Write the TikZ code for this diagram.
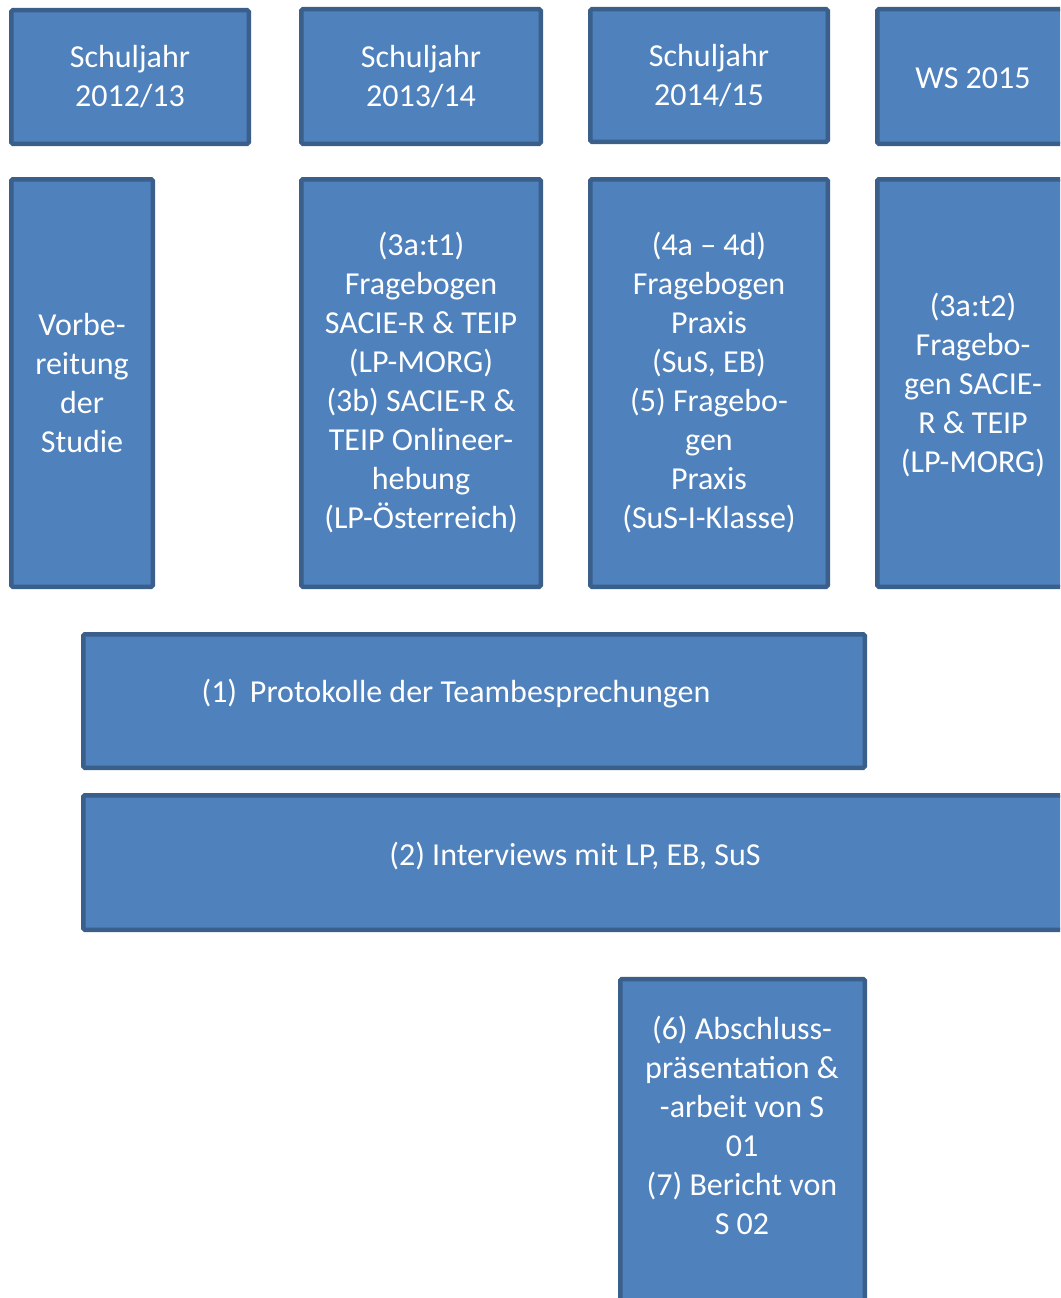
\documentclass[tikz,border=0pt]{standalone}
\usepackage{fontspec}
\setmainfont{Carlito}
\definecolor{boxfill}{HTML}{4F81BD}
\definecolor{boxline}{HTML}{3A5F8B}
\begin{document}
\begin{tikzpicture}[x=1pt,y=-1pt,
  box/.style={draw=boxline, fill=boxfill, line width=4.5pt, rounded corners=1.5pt,
    inner sep=0pt, text=white, align=center, font=\fontsize{32}{39}\selectfont},
  lbl/.style={inner sep=0pt, text=white, align=center, font=\fontsize{32}{39}\selectfont}]
\useasboundingbox (0,0) rectangle (1060,1298);
\clip (0,0) rectangle (1060,1298);
% row 1
\node[box, minimum width=237.5pt, minimum height=133.5pt] (y1) at (130,77) {Schuljahr\\2012/13};
\node[box, minimum width=239.5pt, minimum height=134.5pt] (y2) at (421,76.5) {Schuljahr\\2013/14};
\node[box, minimum width=237.5pt, minimum height=132.5pt] (y3) at (709,75.5) {Schuljahr\\2014/15};
\node[box, minimum width=240pt, minimum height=134.5pt] (y4) at (997.25,76.5) {};
\node[lbl] (y4t) at (973,78) {WS 2015};
% row 2
\node[box, minimum width=141.5pt, minimum height=407.5pt] (c1) at (82,383) {Vorbe-\\reitung\\der\\Studie};
\node[box, minimum width=239.5pt, minimum height=407.5pt] (c2) at (421,383) {(3a:t1)\\Fragebogen\\SACIE-R \& TEIP\\(LP-MORG)\\(3b) SACIE-R \&\\TEIP Onlineer-\\hebung\\(LP-Österreich)};
\node[box, minimum width=237.5pt, minimum height=407.5pt] (c3) at (709,383) {(4a -- 4d)\\Fragebogen\\Praxis\\(SuS, EB)\\(5) Fragebo-\\gen\\Praxis\\(SuS-I-Klasse)};
\node[box, minimum width=240pt, minimum height=407.5pt] (c4) at (997.25,383) {};
\node[lbl] (c4t) at (973,385) {(3a:t2)\\Fragebo-\\gen SACIE-\\R \& TEIP\\(LP-MORG)};
% long bars
\node[box, minimum width=781.5pt, minimum height=133.5pt] (p1) at (474,701) {};
\node[lbl] (p1t) at (456,694) {(1)\hspace{0.4em}Protokolle der Teambesprechungen};
\node[box, minimum width=1020pt, minimum height=134.5pt] (p2) at (593.25,862.5) {};
\node[lbl] (p2t) at (575,856) {(2) Interviews mit LP, EB, SuS};
% bottom box
\node[box, minimum width=244.5pt, minimum height=340pt] (p6) at (742.5,1149) {};
\node[lbl] (p6t) at (742,1125.5) {(6) Abschluss-\\präsentation \&\\-arbeit von S\\01\\(7) Bericht von\\S 02};
\end{tikzpicture}
\end{document}
